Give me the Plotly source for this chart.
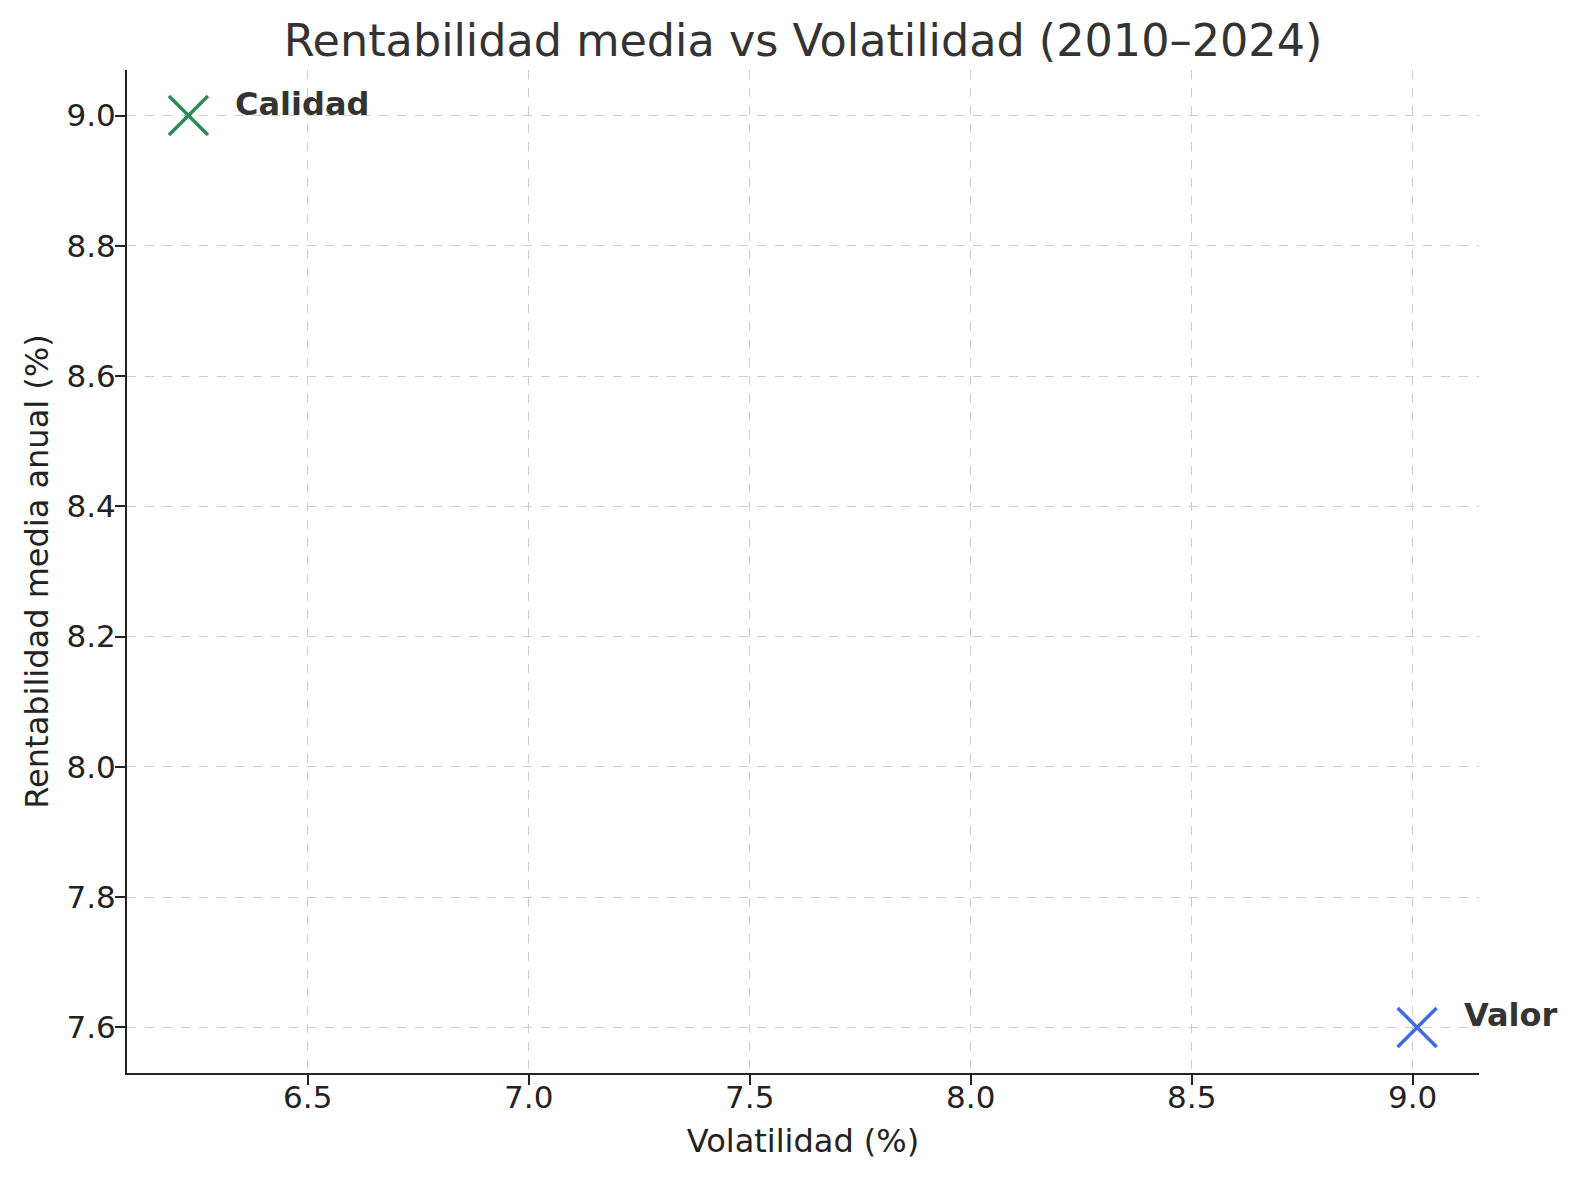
import plotly.graph_objects as go

# Data
factores = ["Calidad", "Valor"]
volatilidad = [6.23, 9.01]
rentabilidad = [9.0, 7.6]
colores = ["#2e8b57", "#4169e1"]

fig = go.Figure()

for nombre, vol, ren, col in zip(factores, volatilidad, rentabilidad, colores):
    fig.add_trace(go.Scatter(
        x=[vol], y=[ren], mode="markers", name=nombre,
        marker=dict(symbol="x-thin", size=39, color=col, line=dict(color=col, width=3.5)),
        cliponaxis=False, showlegend=False,
    ))
    # bold label to the upper right of the point
    fig.add_annotation(
        x=vol, y=ren, xref="x", yref="y", text="<b>" + nombre + "</b>",
        showarrow=False, xanchor="left", yanchor="middle", xshift=45, yshift=12,
        font=dict(family="DejaVu Sans", size=32, color="#333333"),
    )

grid = dict(showgrid=True, gridcolor="#cccccc", gridwidth=1.4, griddash="dash",
            showline=True, linecolor="#222222", linewidth=2, ticks="outside",
            ticklen=10, tickwidth=2, tickcolor="#222222", zeroline=False,
            tickfont=dict(family="DejaVu Sans", size=31, color="#222222"),
            tickformat=".1f")

fig.update_layout(
    width=1570, height=1172,
    margin=dict(l=119, r=99, t=62, b=107),
    paper_bgcolor="white", plot_bgcolor="white",
    title=dict(text="Rentabilidad media vs Volatilidad (2010–2024)",
               x=0.5, xanchor="center", xref="paper", y=0.972, yanchor="middle",
               font=dict(family="DejaVu Sans", size=44.5, color="#333333")),
    xaxis=dict(grid, range=[6.091, 9.15], dtick=0.5, ticklabelstandoff=-14,
               title=dict(text="Volatilidad (%)", standoff=15,
                          font=dict(family="DejaVu Sans", size=32, color="#222222"))),
    yaxis=dict(grid, range=[7.530, 9.07], dtick=0.2, ticklabelstandoff=-7,
               title=dict(text="Rentabilidad media anual (%)", standoff=8,
                          font=dict(family="DejaVu Sans", size=32, color="#222222"))),
)

fig.write_html("out.html")
